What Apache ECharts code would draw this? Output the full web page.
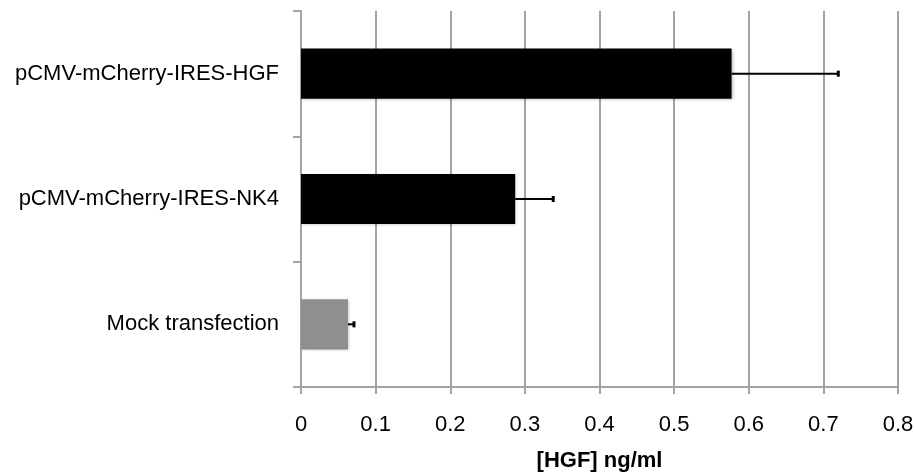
<!DOCTYPE html>
<html><head><meta charset="utf-8">
<script src="https://cdn.jsdelivr.net/npm/echarts@6/dist/echarts.min.js"></script>
<style>html,body{margin:0;padding:0;background:#fff}#c{width:915px;height:474px}</style>
</head><body><div id="c"></div>
<script>
var categories = ['Mock transfection', 'pCMV-mCherry-IRES-NK4', 'pCMV-mCherry-IRES-HGF'];
var values = [0.063, 0.287, 0.577];
var errors = [0.008, 0.051, 0.143];
var barColors = ['#8f8f8f', '#000000', '#000000'];
var xTicks = [0, 0.1, 0.2, 0.3, 0.4, 0.5, 0.6, 0.7, 0.8];

var chart = echarts.init(document.getElementById('c'));
var font = '"Liberation Sans", Arial, Helvetica, sans-serif';
chart.setOption({
  animation: false,
  grid: {left: 301, right: 17, top: 11, bottom: 87, containLabel: false, outerBoundsMode: 'none'},
  xAxis: {
    type: 'value', min: 0, max: 0.8, interval: 0.1,
    name: '[HGF] ng/ml', nameLocation: 'middle', nameGap: 63,
    nameTextStyle: {fontFamily: font, fontSize: 22, fontWeight: 'bold', color: '#000'},
    axisLine: {show: true, lineStyle: {color: '#a3a3a3', width: 2}},
    axisTick: {show: true, length: 7, lineStyle: {color: '#a3a3a3', width: 2}},
    axisLabel: {fontFamily: font, fontSize: 22, color: '#000', margin: 27,
      formatter: function (v) { var r = Math.round(v*10)/10; return xTicks.indexOf(r) >= 0 ? String(r) : ''; }},
    splitLine: {show: true, lineStyle: {color: '#a3a3a3', width: 2}}
  },
  yAxis: {
    type: 'category', data: categories,
    axisLine: {show: true, lineStyle: {color: '#a3a3a3', width: 2}},
    axisTick: {show: true, length: 8, alignWithLabel: false, lineStyle: {color: '#a3a3a3', width: 2}},
    axisLabel: {fontFamily: font, fontSize: 22, color: '#000', margin: 22, padding: [3, 0, 0, 0]},
    splitLine: {show: false}
  },
  series: [{
    type: 'bar',
    barWidth: '40%',
    data: values.map(function (v, i) {
      return {value: v, itemStyle: {color: barColors[i], shadowColor: 'rgba(0,0,0,0.25)', shadowBlur: 3, shadowOffsetX: 1, shadowOffsetY: 1}};
    })
  }, {
    type: 'custom',
    z: 5,
    data: values.map(function (v, i) { return [i, v, v + errors[i]]; }),
    renderItem: function (params, api) {
      var i = api.value(0);
      var p0 = api.coord([api.value(1), i]);
      var p1 = api.coord([api.value(2), i]);
      return {
        type: 'group',
        children: [
          {type: 'line', shape: {x1: p0[0], y1: p0[1], x2: p1[0], y2: p1[1]}, style: {stroke: '#000', lineWidth: 2}},
          {type: 'line', shape: {x1: p1[0], y1: p1[1] - 3, x2: p1[0], y2: p1[1] + 3}, style: {stroke: '#000', lineWidth: 3}}
        ]
      };
    }
  }]
});
</script>
</body></html>
